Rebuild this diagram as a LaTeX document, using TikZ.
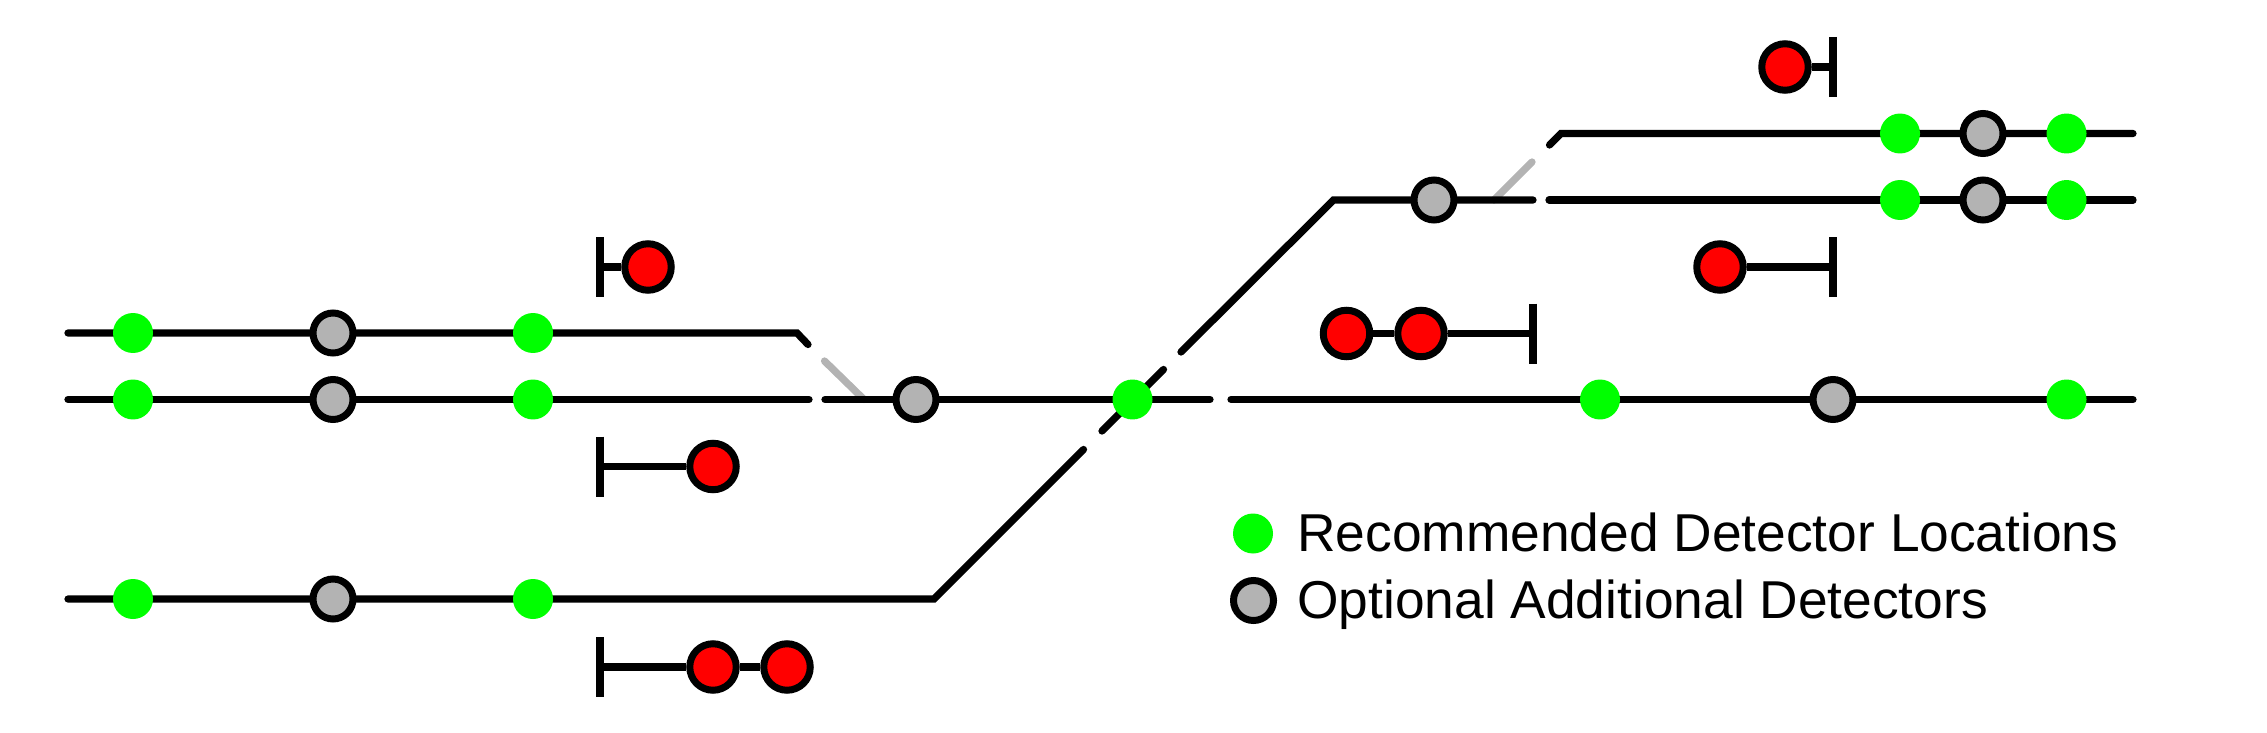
\documentclass[tikz,border=0pt]{standalone}
\usepackage{fontspec}
\setmainfont{Liberation Sans}
\usetikzlibrary{backgrounds}
\definecolor{detgreen}{RGB}{0,255,0}
\definecolor{detgray}{RGB}{179,179,179}
\definecolor{detred}{RGB}{255,0,0}
\tikzset{
	recommended/.style = {shape=circle, fill=detgreen, inner sep=0pt, minimum size=0.8cm},
	optional/.style = {shape=circle, draw, line width=0.14cm, fill=detgray, inner sep=0pt, minimum size=0.8cm},
	signal/.style = {shape=circle, draw, line width=0.14cm, fill=detred, inner sep=0pt, minimum size=0.93cm},
	track/.style = {line width=0.145cm, line cap=round, line join=miter},
	turnout/.style = {line width=0.145cm, line cap=round, color=detgray},
	stopbar/.style = {line width=0.145cm},
	legendtext/.style = {anchor=base west, inner sep=0pt, font=\fontsize{30.35}{35}\selectfont}
}
\begin{document}
\begin{tikzpicture}[x=0.02cm, y=-0.02cm]
			\useasboundingbox (0,-0.5) rectangle (2267,732.5);
			
			% detectors on the three left tracks
			\foreach \row/\y in {a/332.5, b/399, c/598.5} {
				\node[recommended] (\row1) at (133,\y) {};
				\node[optional] (\row2) at (333,\y) {};
				\node[recommended] (\row3) at (533,\y) {};
			}
			\node[optional] (b4) at (916,399) {};
			\node[recommended] (b5) at (1132.5,399) {};
			\node[recommended] (b6) at (1600,399) {};
			\node[optional] (b7) at (1833,399) {};
			\node[recommended] (b8) at (2066.5,399) {};
			
			% detectors on the two right tracks
			\foreach \row/\y in {d/133, e/199.5} {
				\node[recommended] (\row1) at (1900,\y) {};
				\node[optional] (\row2) at (1983,\y) {};
				\node[recommended] (\row3) at (2066.5,\y) {};
			}
			\node[optional] (e0) at (1434,199.5) {};
			
			% signals
			\node[signal] (sigA) at (648,266.5) {};
			\node[signal] (sigB) at (713,466) {};
			\node[signal] (sigC) at (713,666.5) {};
			\node[signal] (sigD) at (787,666.5) {};
			\node[signal] (sigE) at (1346.5,333) {};
			\node[signal] (sigF) at (1421,333) {};
			\node[signal] (sigG) at (1720,266.5) {};
			\node[signal] (sigH) at (1785,66.5) {};
			
			% ends of the signal bars
			\foreach \bar/\x/\y in {A/600/266.5, B/600/466, C/600/666.5, E/1533/333, G/1833/266.5, H/1833/66.5} {
				\coordinate (bar\bar) at (\x,\y);
				\coordinate (bar\bar top) at (\x,\y-30);
				\coordinate (bar\bar bot) at (\x,\y+30);
			}
			
			% free ends of the tracks
			\coordinate (aWest) at (68,332.5);
			\coordinate (aBend) at (797,332.5);
			\coordinate (aEnd) at (808,344);
			\coordinate (bWest) at (68,399);
			\coordinate (bGapL) at (809,399);
			\coordinate (bGapR) at (825,399);
			\coordinate (bGapS) at (1210,399);
			\coordinate (bGapT) at (1231,399);
			\coordinate (bEast) at (2133,399);
			\coordinate (cWest) at (68,598.5);
			\coordinate (cBend) at (934,598.5);
			\coordinate (diagA) at (1083.5,449);
			\coordinate (diagB) at (1102,430.5);
			\coordinate (diagC) at (1163.5,369);
			\coordinate (diagD) at (1181,351.5);
			\coordinate (eBend) at (1333.5,199.5);
			\coordinate (eGapL) at (1533,199.5);
			\coordinate (eGapR) at (1549,199.5);
			\coordinate (eEast) at (2133,199.5);
			\coordinate (dTip) at (1549.5,144.5);
			\coordinate (dBend) at (1561,133);
			\coordinate (dEast) at (2133,133);
			\coordinate (grayAtop) at (824.5,360.5);
			\coordinate (grayAbot) at (864,399);
			\coordinate (grayBtop) at (1532,161.5);
			\coordinate (grayBbot) at (1494,199.5);
			
			\begin{scope}[on background layer]
				\draw[turnout] (grayAtop) -- (grayAbot);
				\draw[turnout] (grayBtop) -- (grayBbot);
				
				\draw[track] (aWest) -- (a1.center) -- (a2.center) -- (a3.center) -- (aBend) -- (aEnd);
				\draw[track] (bWest) -- (b1.center) -- (b2.center) -- (b3.center) -- (bGapL);
				\draw[track] (bGapR) -- (b4.center) -- (b5.center) -- (bGapS);
				\draw[track] (bGapT) -- (b6.center) -- (b7.center) -- (b8.center) -- (bEast);
				\draw[track] (cWest) -- (c1.center) -- (c2.center) -- (c3.center) -- (cBend) -- (diagA);
				\draw[track] (diagB) -- (diagC);
				\draw[track] (diagD) -- (eBend) -- (e0.center) -- (eGapL);
				\draw[track] (eGapR) -- (e1.center) -- (e2.center) -- (e3.center) -- (eEast);
				\draw[track] (dTip) -- (dBend) -- (d1.center) -- (d2.center) -- (d3.center) -- (dEast);
				
				\foreach \bar in {A, B, C, E, G, H} {
					\draw[stopbar] (bar\bar top) -- (bar\bar bot);
				}
				\draw[stopbar] (barA) -- (sigA);
				\draw[stopbar] (barB) -- (sigB);
				\draw[stopbar] (barC) -- (sigC);
				\draw[stopbar] (sigC) -- (sigD);
				\draw[stopbar] (sigE) -- (sigF);
				\draw[stopbar] (sigF) -- (barE);
				\draw[stopbar] (sigG) -- (barG);
				\draw[stopbar] (sigH) -- (barH);
			\end{scope}
			
			% legend
			\node[recommended] (keyRec) at (1253,533) {};
			\node[optional] (keyOpt) at (1253.5,600) {};
			\node[legendtext] (textRec) at (1297,551) {Recommended Detector Locations};
			\node[legendtext] (textOpt) at (1297,618) {Optional Additional Detectors};
\end{tikzpicture}
\end{document}
